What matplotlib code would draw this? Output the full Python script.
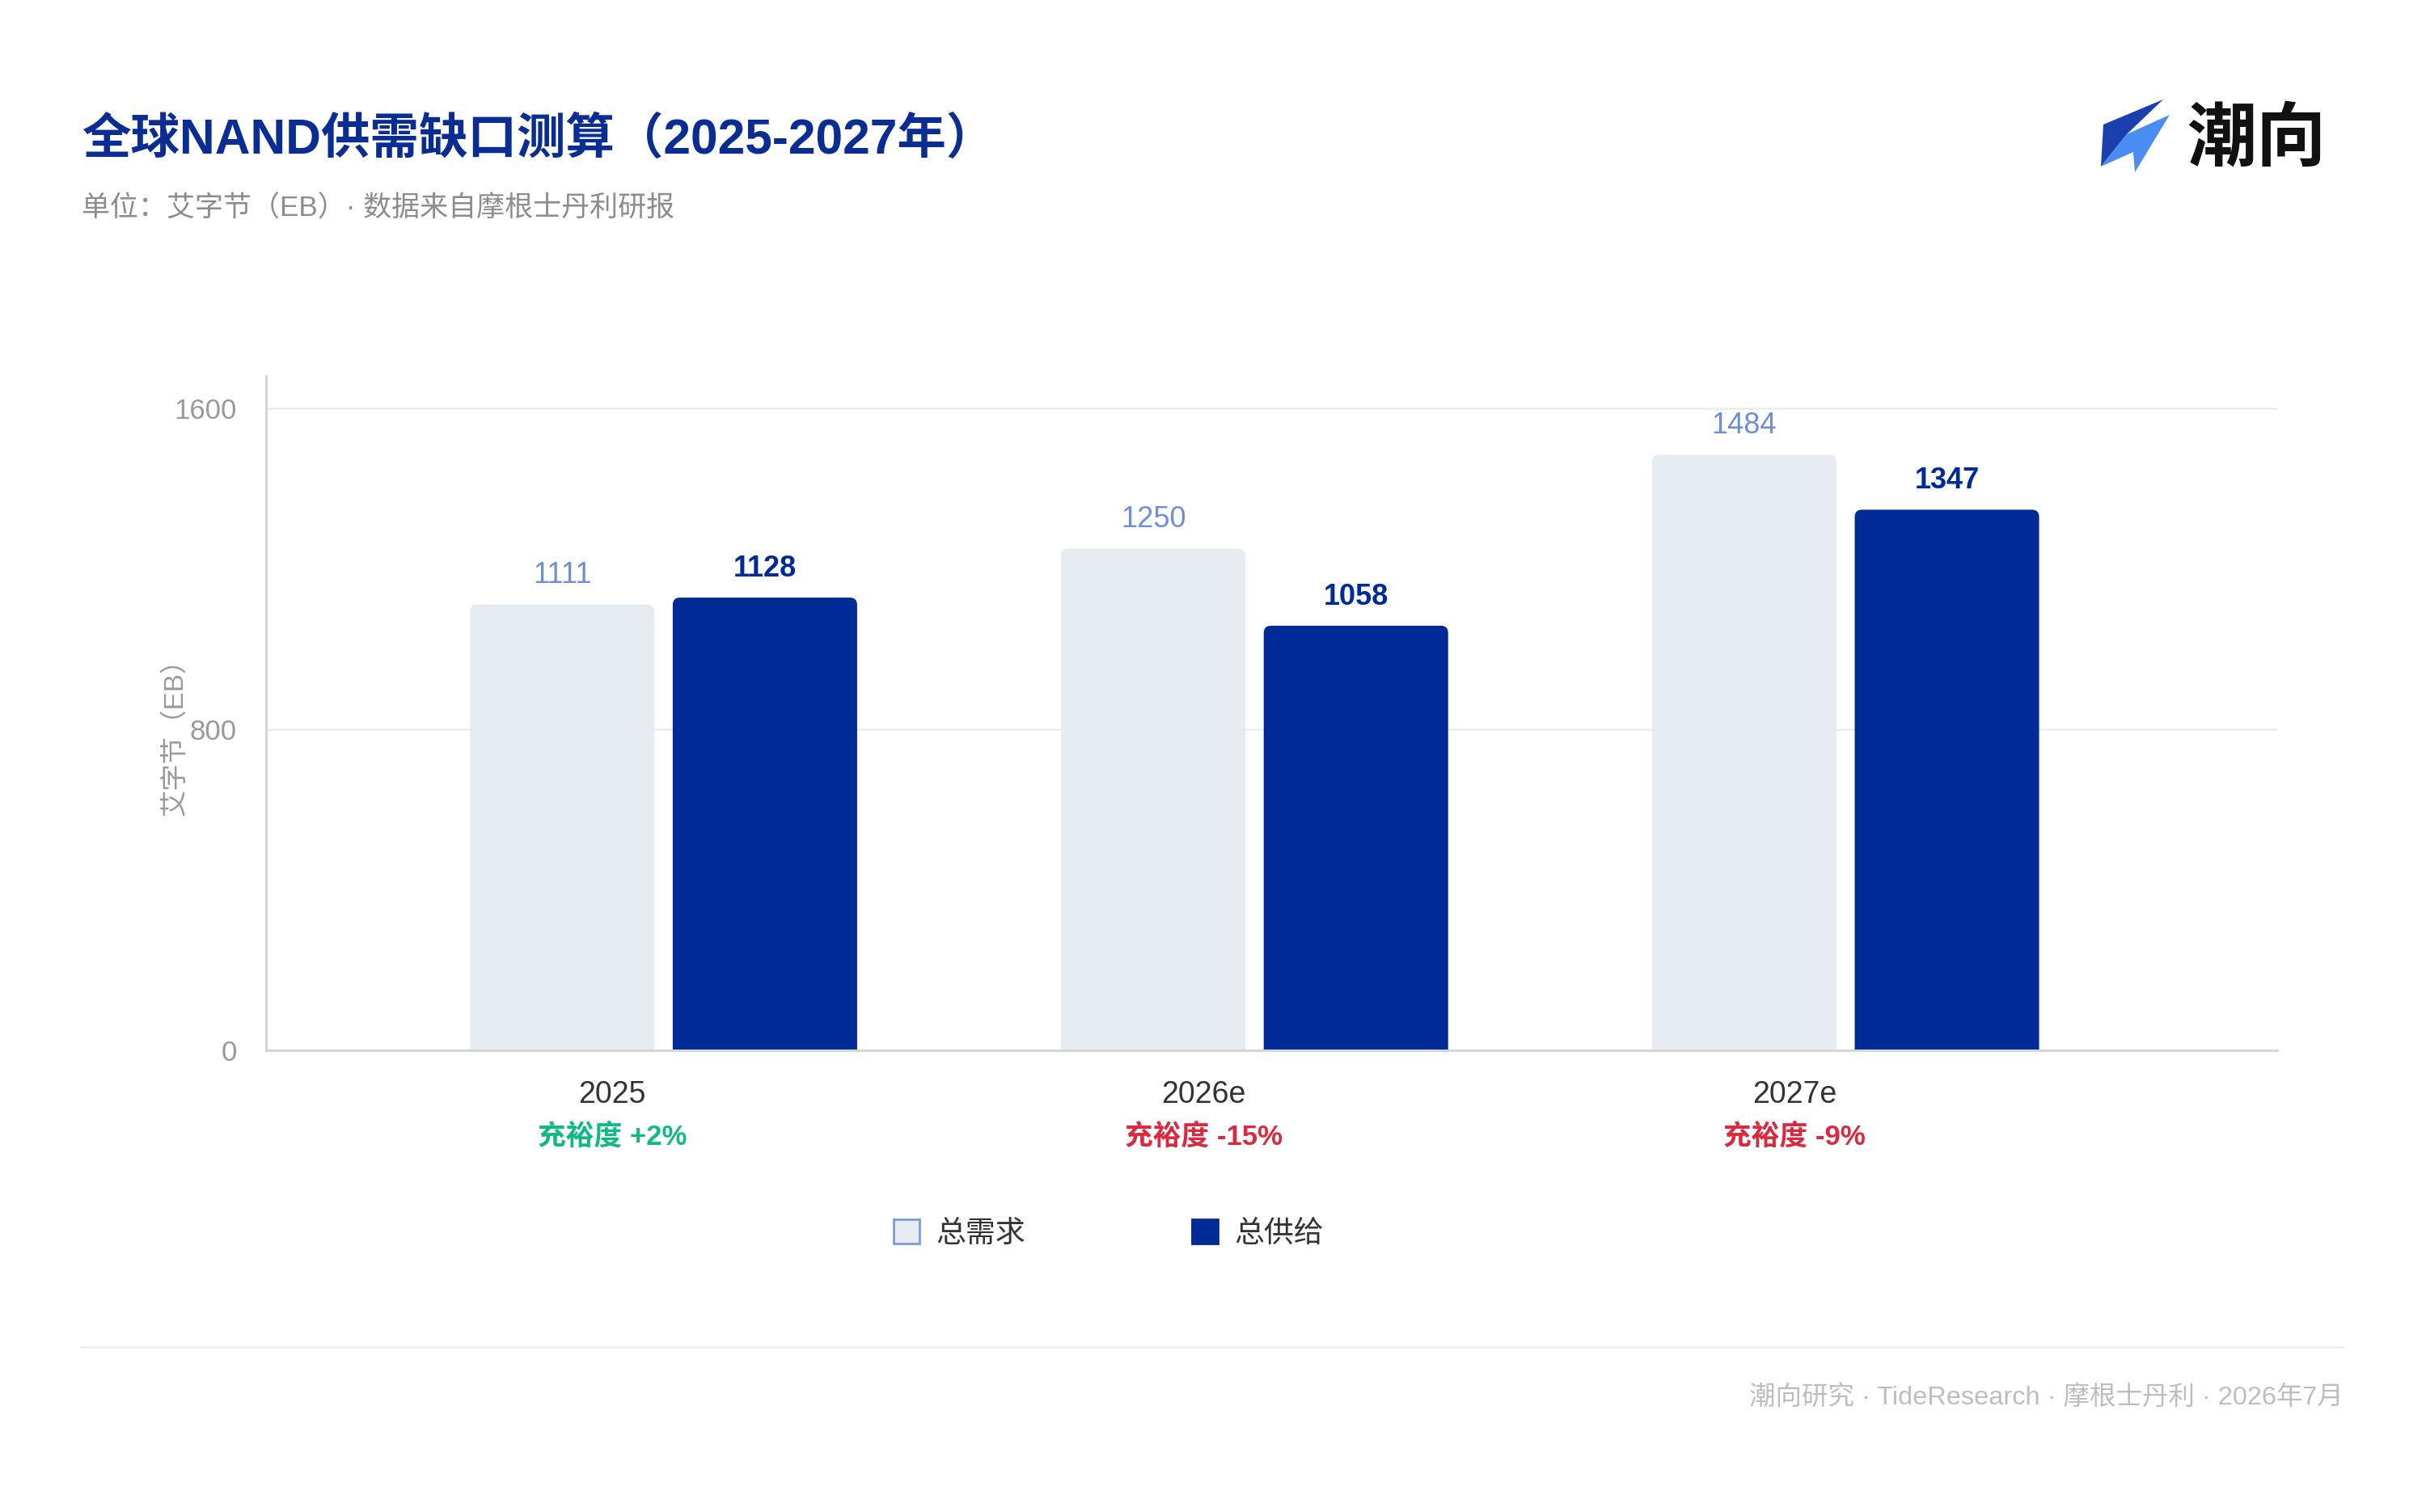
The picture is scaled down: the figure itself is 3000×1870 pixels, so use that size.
import matplotlib
matplotlib.use("Agg")
import matplotlib.pyplot as plt
from matplotlib.patches import FancyBboxPatch, Patch, Polygon
from matplotlib.lines import Line2D

plt.rcParams['font.family'] = ['Liberation Sans', 'Noto Sans CJK SC', 'DejaVu Sans']

# data
years = ['2025', '2026e', '2027e']
demand = [1111, 1250, 1484]
supply = [1128, 1058, 1347]
adequacy = ['充裕度 +2%', '充裕度 -15%', '充裕度 -9%']
adequacy_colors = ['#12B886', '#D92A3F', '#D92A3F']
yticks = [0, 800, 1600]

c_demand = '#E7ECF3'
c_demand_txt = '#6E8FD8'
c_supply = '#002A96'
c_title = '#0A2D94'

fig = plt.figure(figsize=(15, 9.35), dpi=200)
fig.patch.set_facecolor('white')
ax = fig.add_axes([0.1097, 0.3053, 0.829, 0.446])

x = list(range(len(years)))
w = 0.312
xd = [i - 0.085 for i in x]
xs = [i + 0.258 for i in x]

bars_d = ax.bar(xd, demand, width=w, color=c_demand, zorder=2)
bars_s = ax.bar(xs, supply, width=w, color=c_supply, zorder=2)

# swap rectangles for rounded-top boxes
for b in list(bars_d) + list(bars_s):
    bx, by = b.get_x(), b.get_y()
    bw, bh = b.get_width(), b.get_height()
    fb = FancyBboxPatch((bx, by - 40), bw, bh + 40,
                        boxstyle="round,pad=0,rounding_size=0.012",
                        mutation_aspect=1500, facecolor=b.get_facecolor(),
                        edgecolor='none', zorder=2)
    b.set_visible(False)
    ax.add_patch(fb)

for i in x:
    ax.annotate(str(demand[i]), (xd[i], demand[i]), xytext=(0, 12.8),
                textcoords='offset points', ha='center', va='center',
                fontsize=13, color=c_demand_txt)
    ax.annotate(str(supply[i]), (xs[i], supply[i]), xytext=(0, 12.8),
                textcoords='offset points', ha='center', va='center',
                fontsize=13, color=c_supply, fontweight='bold')

tr = ax.get_xaxis_transform()
for i in x:
    ax.text(i, -0.066, years[i], transform=tr, ha='center', va='center',
            fontsize=13.5, color='#333333')
    ax.text(i, -0.128, adequacy[i], transform=tr, ha='center', va='center',
            fontsize=12.5, color=adequacy_colors[i], fontweight='bold')

ax.set_xlim(-0.586, 2.817)
ax.set_ylim(0, 1680)
ax.set_xticks([])
ax.set_yticks(yticks)
ax.set_yticklabels([str(t) for t in yticks])
ax.tick_params(axis='y', length=0, pad=13, labelsize=12.5, labelcolor='#999999')
ax.grid(axis='y', color='#EEEEEE', linewidth=1.0, zorder=0)
ax.set_axisbelow(True)
for s in ['top', 'right']:
    ax.spines[s].set_visible(False)
for s in ['left', 'bottom']:
    ax.spines[s].set_color('#D5D5D5')
    ax.spines[s].set_linewidth(1.1)
ax.spines['bottom'].set_zorder(3)

ax.set_ylabel('艾字节（EB）', fontsize=12, color='#999999')
ax.yaxis.set_label_coords(-0.039, 0.475)

# title block
fig.text(0.0337, 0.907, '全球NAND供需缺口测算（2025-2027年）', fontsize=21.8,
         fontweight='bold', color=c_title, ha='left', va='center')
fig.text(0.0337, 0.862, '单位：艾字节（EB）· 数据来自摩根士丹利研报', fontsize=12.6,
         color='#8C8C8C', ha='left', va='center')

# logo
def fp(px, py):
    return (px / 3000, 1 - py / 1870)

dark = [fp(2601, 154), fp(2675, 123), fp(2630, 166), fp(2598, 206)]
light = [fp(2630, 166), fp(2683, 142), fp(2640, 213), fp(2638, 188), fp(2598, 206)]
fig.patches.append(Polygon(dark, closed=True, transform=fig.transFigure,
                           facecolor='#1B3FAF', edgecolor='none'))
fig.patches.append(Polygon(light, closed=True, transform=fig.transFigure,
                           facecolor='#4A8DF2', edgecolor='none'))
fig.text(0.9587, 0.908, '潮向', fontsize=31, fontweight='bold', color='#111111',
         ha='right', va='center', family=['Noto Sans CJK SC', 'DejaVu Sans'])

# legend
handles = [Patch(facecolor=c_demand, edgecolor='#7B9BE0', linewidth=1.0),
           Patch(facecolor=c_supply, edgecolor=c_supply)]
fig.legend(handles, ['总需求', '总供给'], loc='center',
           bbox_to_anchor=(0.457, 0.184), ncol=2, frameon=False,
           fontsize=13.3, handlelength=0.85, handleheight=0.85,
           handletextpad=0.55, columnspacing=5.6, labelcolor='#333333')

# footer
fig.add_artist(Line2D([0.0337, 0.966], [0.109, 0.109], transform=fig.transFigure,
                      color='#EFEFEF', linewidth=1.0))
fig.text(0.966, 0.0755, '潮向研究 · TideResearch · 摩根士丹利 · 2026年7月',
         fontsize=11.7, color='#BDBDBD', ha='right', va='center')

fig.savefig('out.png', dpi=200, facecolor='white')
